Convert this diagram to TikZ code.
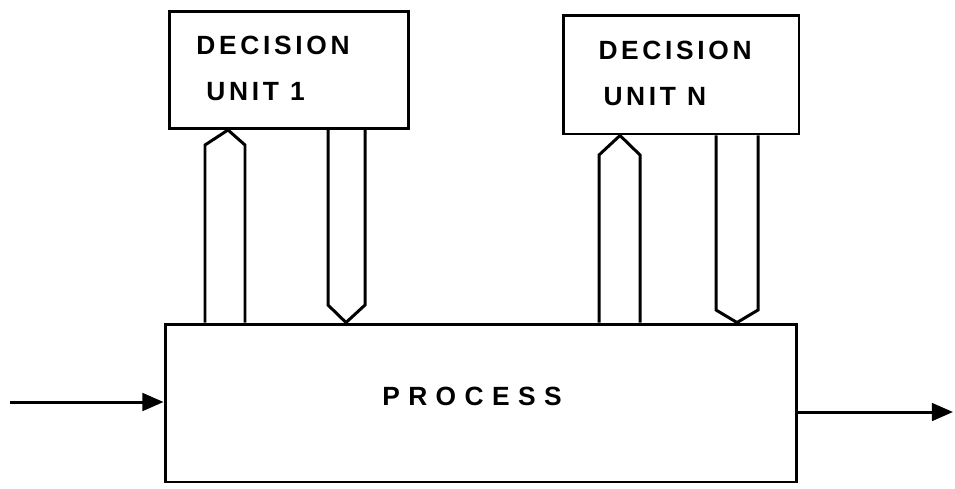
\documentclass[tikz,border=0pt]{standalone}
\usepackage{fontspec}
\setsansfont{Liberation Sans}
\usetikzlibrary{arrows.meta,positioning}

\begin{document}
\begin{tikzpicture}[x=0.02cm,y=-0.02cm,>={Triangle[length=12pt,width=10pt]},
 line width=1.7pt,
 unitbox/.style={draw,minimum width=4.8cm,minimum height=2.34cm,inner sep=0pt},
 lbl/.style={font=\sffamily\bfseries\fontsize{15}{18}\selectfont\addfontfeature{LetterSpace=14},
   anchor=base west,inner sep=0pt},
 hollow/.style={line join=miter}]
\useasboundingbox (0,0) rectangle (955,488);
\node[unitbox] (du1) at (289,70) {};
\node[unitbox,minimum width=4.72cm,minimum height=2.38cm] (dun) at (681,74.5) {};
\node[draw,minimum width=12.64cm,minimum height=3.16cm,inner sep=0pt] (proc) at (481,403) {};
\node[lbl] (du1a) at (195,54) {DECISION};
\node[lbl] (du1b) at (205,100) {UNIT 1};
\node[lbl] (duna) at (597,59) {DECISION};
\node[lbl] (dunb) at (602,105) {UNIT N};
\node[lbl,anchor=base,font=\sffamily\bfseries\fontsize{15}{18}\selectfont\addfontfeature{LetterSpace=32}]
 (proct) at (472,405) {PROCESS};
% flows between units and process
\draw[hollow] (205,0 |- proc.north) -- (205,145) -- (228,0 |- du1.south) -- (245,145) -- (245,0 |- proc.north);
\draw[hollow] (328,0 |- du1.south) -- (328,305) -- (346,0 |- proc.north) -- (365,305) -- (365,0 |- du1.south);
\draw[hollow] (599,0 |- proc.north) -- (599,155) -- (620,0 |- dun.south) -- (640,155) -- (640,0 |- proc.north);
\draw[hollow] (716,0 |- dun.south) -- (716,310) -- (737,0 |- proc.north) -- (758,310) -- (758,0 |- dun.south);
% input and output
\coordinate (in) at (10,402);
\coordinate (out) at (953,412);
\draw[->] (in) -- (in -| proc.west);
\draw[->] (out -| proc.east) -- (out);
\end{tikzpicture}
\end{document}
